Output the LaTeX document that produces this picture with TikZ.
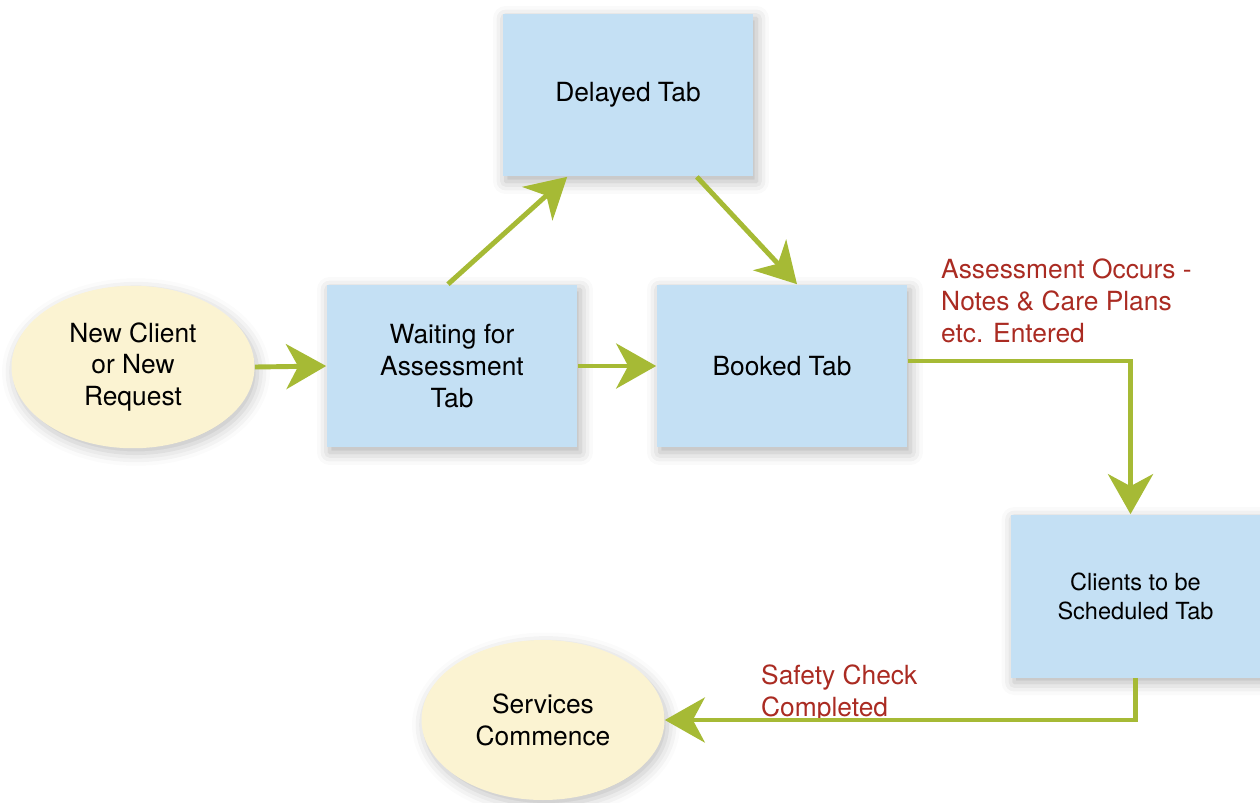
\documentclass[tikz,border=0pt]{standalone}
\usepackage{fontspec}
\setmainfont{TeX Gyre Heros}
\usepackage{tikz}
\usetikzlibrary{arrows.meta,shadows.blur,shapes.geometric}
\definecolor{tabblue}{HTML}{C4E0F4}
\definecolor{startcream}{HTML}{FBF3D2}
\definecolor{flowgreen}{HTML}{A6BA35}
\definecolor{notered}{HTML}{AA2B22}
\tikzset{
  tabbox/.style={fill=tabblue,minimum width=5.02cm,minimum height=3.26cm,align=center,
    font=\fontsize{15}{18.2}\selectfont,
    blur shadow={shadow xshift=0.06cm,shadow yshift=-0.1cm,shadow blur radius=0.25cm,shadow opacity=30}},
  endpoint/.style={ellipse,fill=startcream,minimum width=4.86cm,minimum height=3.25cm,align=center,
    font=\fontsize{15}{18.2}\selectfont,
    blur shadow={shadow xshift=0.06cm,shadow yshift=-0.1cm,shadow blur radius=0.25cm,shadow opacity=25}},
  flow/.style={draw=flowgreen,line width=2.8pt,-{Stealth[length=0.8cm,width=0.9cm,inset=0.24cm]}},
  note/.style={text=notered,align=left,anchor=west,font=\fontsize{15}{18.2}\selectfont}
}
\begin{document}
\begin{tikzpicture}[x=0.02cm,y=-0.02cm]
\useasboundingbox (0,0) rectangle (1260,802);
\node[endpoint] (new) at (133,367) {New Client\\or New\\Request};
\node[tabbox] (wait) at (452,366) {Waiting for\\Assessment\\Tab};
\node[tabbox] (delay) at (628,95) {Delayed Tab};
\node[tabbox] (booked) at (782,366) {Booked Tab};
\node[tabbox,minimum width=4.98cm,font=\fontsize{13.4}{16.5}\selectfont] (sched) at (1135.5,596) {Clients to be\\Scheduled Tab};
\node[endpoint,minimum height=3.2cm] (serv) at (543,720) {Services\\Commence};
\node[note] (assess) at (935,301) {Assessment Occurs -\\Notes \& Care Plans\\etc. Entered};
\node[note] (safety) at (755,694) {Safety Check\\Completed};
% arrows
\draw[flow] (new.east) -- (wait.west);
\draw[flow] ([xshift=-0.08cm]wait.north) -- ([xshift=1.3cm]delay.south west);
\draw[flow] ([xshift=-1.14cm]delay.south east) -- ([xshift=0.3cm]booked.north);
\draw[flow] (wait.east) -- (booked.west);
\draw[flow] ([yshift=0.1cm]booked.east) -| ([xshift=-0.1cm]sched.north);
\draw[flow] (sched.south) |- (serv.east);
\end{tikzpicture}
\end{document}
